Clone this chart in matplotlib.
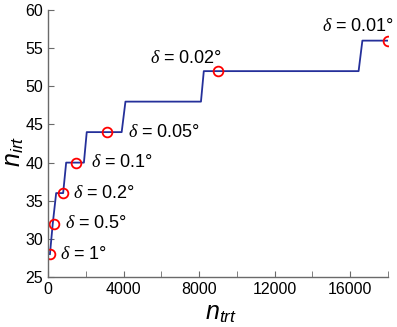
import matplotlib
matplotlib.use('Agg')
import matplotlib.pyplot as plt

# step curve of n_irt versus n_trt
line_x = [100, 250, 430, 800, 960, 1900, 2050, 3900, 4100, 8100, 8250, 16450, 16650, 18000]
line_y = [28, 32, 36, 36, 40, 40, 44, 44, 48, 48, 52, 52, 56, 56]

# marked points for each delta
mark_x = [100, 300, 800, 1500, 3100, 9000, 18000]
mark_y = [28, 32, 36, 40, 44, 52, 56]
labels = ['1°', '0.5°', '0.2°', '0.1°', '0.05°', '0.02°', '0.01°']

plt.rcParams['font.family'] = ['Liberation Sans', 'DejaVu Sans']
plt.rcParams['mathtext.fontset'] = 'custom'
plt.rcParams['mathtext.it'] = 'Liberation Serif:italic'
plt.rcParams['mathtext.rm'] = 'Liberation Sans'
plt.rcParams['mathtext.sf'] = 'Liberation Sans:italic'

fig = plt.figure(figsize=(3.97, 3.27), dpi=100)
ax = fig.add_axes([0.121, 0.153, 0.856, 0.816])

ax.plot(line_x, line_y, color='#25309a', lw=1.3)
ax.plot(mark_x, mark_y, 'o', mfc='none', mec='red', mew=1.3, ms=7)

# label offsets in data units (dx, dy, ha)
offs = [(540, 0, 'left'), (600, 0, 'left'), (530, 0, 'left'), (790, 0, 'left'),
        (1160, 0, 'left'), (220, 1.7, 'right'), (340, 1.8, 'right')]
for x, y, lab, (dx, dy, ha) in zip(mark_x, mark_y, labels, offs):
    ax.text(x + dx, y + dy, r'$\delta$ = ' + lab, fontsize=13, ha=ha, va='center',
            clip_on=False)

ax.set_xlim(0, 18000)
ax.set_ylim(25, 60)
ax.set_xticks([0, 4000, 8000, 12000, 16000])
ax.set_xticks(range(0, 18001, 2000), minor=True)
ax.set_yticks(range(25, 61, 5))

for s in ['top', 'right']:
    ax.spines[s].set_visible(False)
for s in ['left', 'bottom']:
    ax.spines[s].set_color('#6a6a6a')
    ax.spines[s].set_linewidth(1.0)
ax.tick_params(which='both', direction='in', color='#6a6a6a', labelsize=11.5)
ax.tick_params(which='major', length=4)
ax.tick_params(which='minor', length=4)

ax.set_xlabel(r'$\mathsf{n}_{\mathsf{trt}}$', fontsize=18)
ax.xaxis.set_label_coords(0.51, -0.09, transform=ax.transAxes)
ax.set_ylabel(r'$\mathsf{n}_{\mathsf{irt}}$', fontsize=18)
ax.yaxis.set_label_coords(-0.1, 0.47, transform=ax.transAxes)
ax.yaxis.label.set_va('center')

fig.savefig('out.png', dpi=100)
